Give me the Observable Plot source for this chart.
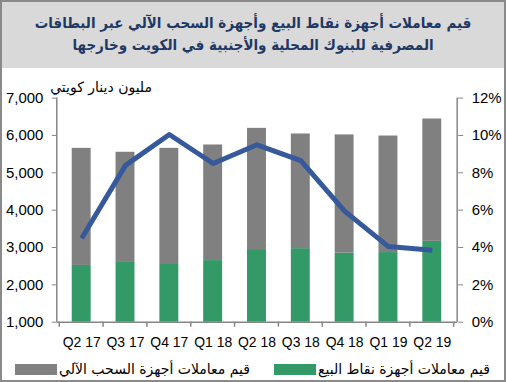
<!DOCTYPE html>
<html><head><meta charset="utf-8">
<script src="https://cdn.jsdelivr.net/npm/d3@7"></script>
<script src="https://cdn.jsdelivr.net/npm/@observablehq/plot@0.6"></script>
<style>
html,body{margin:0;padding:0;background:#fff;}
#wrap{position:relative;width:506px;height:382px;box-sizing:border-box;border:2px solid #8a8a8a;overflow:hidden;background:#fff;}
#title{position:absolute;left:0;top:0;width:502px;height:66px;background:#d9d9d9;color:#1f3864;font-family:"DejaVu Sans Condensed","DejaVu Sans",sans-serif;font-weight:bold;font-size:15px;line-height:22px;text-align:center;direction:rtl;padding-top:10px;box-sizing:border-box;white-space:nowrap;}
#chart{position:absolute;left:-2px;top:-2px;}
#unit{position:absolute;right:352px;top:77px;font-family:"DejaVu Sans",sans-serif;font-size:14px;direction:rtl;color:#000;white-space:nowrap;}
.leg{position:absolute;top:359px;display:flex;flex-direction:row;direction:rtl;align-items:center;font-family:"DejaVu Sans",sans-serif;font-size:14px;color:#000;white-space:nowrap;}
.sw{width:42px;height:11px;margin-right:2px;}
</style></head>
<body>
<div id="wrap">
  <div id="chart"></div>
  <div id="title"></div>
  <div id="unit"></div>
  <div id="legend"></div>
</div>
<script>
// ---- data ----
const titleLines = ["قيم معاملات أجهزة نقاط البيع وأجهزة السحب الآلي عبر البطاقات", "المصرفية للبنوك المحلية والأجنبية في الكويت وخارجها"];
const unitLabel = "مليون دينار كويتي";
const quarters = ["Q2 17","Q3 17","Q4 17","Q1 18","Q2 18","Q3 18","Q4 18","Q1 19","Q2 19"];
const seriesNames = ["قيم معاملات أجهزة نقاط البيع", "قيم معاملات أجهزة السحب الآلي"];
const posValues = [2520, 2600, 2545, 2650, 2945, 2970, 2850, 2865, 3165];
const atmValues = [3135, 2950, 3110, 3095, 3245, 3070, 3165, 3120, 3275];
const growthPct = [4.5, 8.4, 10.05, 8.5, 9.5, 8.65, 5.95, 4.05, 3.85];
const leftTicks = [1000, 2000, 3000, 4000, 5000, 6000, 7000];
const rightTicks = [0, 2, 4, 6, 8, 10, 12];
const seriesColors = ["#339966", "#808080"];
const lineColor = "#35599a";
const axisColor = "#868686";

// ---- build ----
document.getElementById("title").innerHTML = titleLines.map(t => `<div>${t}</div>`).join("");
document.getElementById("unit").textContent = unitLabel;

const rows = quarters.flatMap((q, i) => [
  {q, s: seriesNames[0], v: posValues[i]},
  {q, s: seriesNames[1], v: atmValues[i]}
]);
const yMin = leftTicks[0], yMax = leftTicks[leftTicks.length - 1];
const pMax = rightTicks[rightTicks.length - 1];
const pctToY = p => yMin + p / pMax * (yMax - yMin);
const lineData = quarters.map((q, i) => ({q, y: pctToY(growthPct[i])}));

const plot = Plot.plot({
  width: 506, height: 382,
  marginLeft: 57, marginRight: 47, marginTop: 98, marginBottom: 59,
  style: {background: "transparent", fontFamily: "'Liberation Sans', Arial, sans-serif", fontSize: "15px", color: "#000", overflow: "visible"},
  x: {domain: quarters, paddingInner: 0.56, paddingOuter: 0.28, label: null},
  y: {domain: [yMin, yMax], label: null},
  color: {domain: seriesNames, range: seriesColors},
  marks: [
    Plot.barY(rows, {x: "q", y: "v", fill: "s", order: seriesNames, clip: true}),
    Plot.line(lineData, {x: "q", y: "y", stroke: lineColor, strokeWidth: 5, strokeLinejoin: "round", strokeLinecap: "butt"}),
    Plot.axisY({anchor: "left", ticks: leftTicks, tickFormat: d3.format(","), tickSize: 5, tickPadding: 9, stroke: axisColor, label: null}),
    Plot.axisY({anchor: "right", ticks: rightTicks.map(pctToY), tickFormat: d => Math.round((d - yMin) / (yMax - yMin) * pMax) + "%", tickSize: 5, tickPadding: 9, stroke: axisColor, label: null}),
    Plot.axisX({anchor: "bottom", tickSize: 0, tickPadding: 15, fontSize: 14, label: null}),
    Plot.ruleY([yMin], {stroke: axisColor, strokeWidth: 1.5})
  ]
});

// axis lines and between-category ticks from the scales
const xs = plot.scale("x"), ys = plot.scale("y");
const svg = d3.select(plot);
const x0 = xs.range[0], x1 = xs.range[1];
const yb = ys.apply(yMin), yt = ys.apply(yMax);
const g = svg.append("g").attr("stroke", axisColor).attr("stroke-width", 1.5);
g.append("line").attr("x1", x0).attr("x2", x0).attr("y1", yt).attr("y2", yb);
g.append("line").attr("x1", x1).attr("x2", x1).attr("y1", yt).attr("y2", yb);
const gap = (xs.step - xs.bandwidth) / 2;
const bounds = quarters.map(q => xs.apply(q) - gap).concat([xs.apply(quarters[quarters.length - 1]) + xs.bandwidth + gap]);
bounds.forEach(b => g.append("line").attr("x1", b).attr("x2", b).attr("y1", yb).attr("y2", yb + 5));

document.getElementById("chart").appendChild(plot);

// legend (RTL items)
const legendRights = [14, 254];
const legend = document.getElementById("legend");
seriesNames.forEach((name, i) => {
  const item = document.createElement("div");
  item.className = "leg";
  item.style.right = legendRights[i] + "px";
  item.innerHTML = `<span>${name}</span><span class="sw" style="background:${seriesColors[i]}"></span>`;
  legend.appendChild(item);
});
</script>
</body></html>
